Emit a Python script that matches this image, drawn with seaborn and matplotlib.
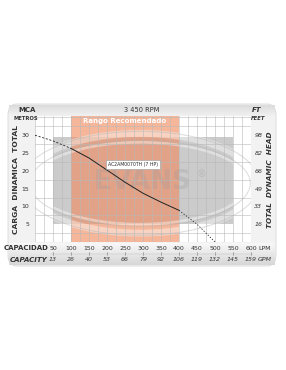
import numpy as np
import pandas as pd
import matplotlib
matplotlib.use("Agg")
import matplotlib.pyplot as plt
from matplotlib.patches import FancyBboxPatch, Rectangle, Ellipse
import seaborn as sns

# ---- data ----
lpm_ticks = [50, 100, 150, 200, 250, 300, 350, 400, 450, 500, 550, 600]
gpm_labels = ["13", "26", "40", "53", "66", "79", "92", "106", "119", "132", "145", "159"]
m_ticks = [5, 10, 15, 20, 25, 30]
ft_labels = ["16", "33", "49", "66", "82", "98"]
flow_lpm = [0, 50, 100, 150, 200, 250, 300, 350, 400, 450, 500]
head_m = [30.0, 28.4, 26.3, 23.6, 20.2, 16.8, 13.7, 11.2, 8.9, 5.0, 0.0]
rec_range = [100, 400]
model_label = "AC2AM0070TH (7 HP)"

sns.set_style("white")
plt.rcParams['font.family'] = ['DejaVu Sans']

W, H = 286, 370
fig = plt.figure(figsize=(W / 100, H / 100), dpi=100)
fig.patch.set_facecolor("white")

def fx(x):
    return x / W

def fy(y):
    return 1 - y / H

# card background
card = FancyBboxPatch((fx(8), fy(266)), fx(268), (266 - 104) / H,
                      boxstyle="round,pad=0,rounding_size=0.03",
                      transform=fig.transFigure, facecolor="#f2f2f2",
                      edgecolor="#d8d8d8", lw=0.6, zorder=0)
fig.patches.append(card)
# top band gradient
grad = np.linspace(0.86, 0.95, 50).reshape(-1, 1)
axg = fig.add_axes([fx(9), fy(117), fx(266), 12 / H], zorder=0.1)
axg.imshow(grad, aspect="auto", cmap="gray", vmin=0, vmax=1, extent=[0, 1, 0, 1])
axg.axis("off")
# bottom band shading
grad2 = np.linspace(0.97, 0.84, 50).reshape(-1, 1)
axb = fig.add_axes([fx(9), fy(265), fx(266), 22 / H], zorder=0.1)
axb.imshow(grad2, aspect="auto", cmap="gray", vmin=0, vmax=1, extent=[0, 1, 0, 1])
axb.axis("off")

ax = fig.add_axes([fx(35), fy(242), fx(216), 126 / H], zorder=1)
ax.set_facecolor("white")
ax.set_xlim(0, 600)
ax.set_ylim(0, 35.4)

# grey logo block and orange recommended range
ax.add_patch(Rectangle((50, 5), 500, 24.5, facecolor="#cbcbcb", edgecolor="none", zorder=0.6))
ax.add_patch(Rectangle((rec_range[0], 0), rec_range[1] - rec_range[0], 35.4,
                       facecolor="#f08a5d", alpha=0.62, edgecolor="none", zorder=0.8))
# watermark logo
for (w, h, lw) in [(650, 28, 5), (600, 23, 2)]:
    e = Ellipse((292, 16.5), w, h, facecolor="none", edgecolor="white", lw=lw, alpha=0.4, zorder=0.9)
    ax.add_patch(e)
    e2 = Ellipse((292, 16.5), w + 12, h + 1.2, facecolor="none", edgecolor="#b0b0b0", lw=0.8, alpha=0.4, zorder=0.9)
    ax.add_patch(e2)
ax.text(300, 14.9, "EVANS", fontsize=19, fontweight="heavy", color="#9a9a9a", alpha=0.28,
        ha="center", va="baseline", zorder=0.95)
ax.text(462, 19.0, "®", fontsize=7, color="#9a9a9a", alpha=0.35, ha="center", va="center", zorder=0.95)

# grid
ax.set_xticks(np.arange(0, 601, 25), minor=True)
ax.set_yticks(np.arange(0, 35.5, 2.5), minor=True)
ax.grid(which="minor", color="#b8b8b8", lw=0.5, alpha=0.8)
ax.set_axisbelow(False)
for s in ax.spines.values():
    s.set_visible(False)

# pump curve
df = pd.DataFrame({"q": flow_lpm, "h": head_m})
sns.lineplot(data=df.iloc[0:3], x="q", y="h", ax=ax, color="#222222", lw=0.6, ls=(0, (2.5, 2)), zorder=3)
sns.lineplot(data=df.iloc[2:9], x="q", y="h", ax=ax, color="#222222", lw=0.7, zorder=3)
sns.lineplot(data=df.iloc[8:], x="q", y="h", ax=ax, color="#222222", lw=0.6, ls=(0, (1.5, 2)), zorder=3)
ax.set_xlabel("")
ax.set_ylabel("")

ax.text(272, 21.7, model_label, fontsize=3.3, ha="center", va="center", zorder=4,
        bbox=dict(boxstyle="square,pad=0.4", facecolor="white", edgecolor="#999999", lw=0.4))
ax.text(250, 33.9, "Rango Recomendado", fontsize=5, fontweight="bold", color="white",
        ha="center", va="center", zorder=4)

# left y tick labels
ax.set_yticks(m_ticks)
ax.set_yticklabels([str(v) for v in m_ticks], fontsize=4.5, color="#333333")
ax.set_xticks([])
ax.tick_params(axis="y", which="both", length=0, pad=4)
ax.tick_params(axis="y", which="minor", length=0)
ax.tick_params(axis="x", which="minor", length=0)

# right ft labels
ax2 = ax.twinx()
ax2.set_ylim(ax.get_ylim())
ax2.set_yticks(m_ticks)
ax2.set_yticklabels(ft_labels, fontsize=4.5, style="italic", color="#333333")
ax2.tick_params(axis="y", length=0, pad=2.5)
for s in ax2.spines.values():
    s.set_visible(False)

# bottom capacity rows
tr = ax.get_xaxis_transform()
for v, g in zip(lpm_ticks, gpm_labels):
    ax.text(v, -6 / 126, str(v), transform=tr, fontsize=4.5, ha="center", va="center", color="#333333")
    ax.text(v, -17.5 / 126, g, transform=tr, fontsize=4.5, style="italic", ha="center", va="center", color="#333333")
    ax.plot([v, v], [-10 / 126, -13 / 126], transform=tr, color="#666666", lw=0.4, clip_on=False)
ax.plot([lpm_ticks[0] - 5, lpm_ticks[-1] + 5], [-11.5 / 126, -11.5 / 126], transform=tr,
        color="#bbbbbb", lw=0.3, clip_on=False)
fig.text(fx(258), fy(248), "LPM", fontsize=4.5, ha="left", va="center", color="#333333")
fig.text(fx(258), fy(259.5), "GPM", fontsize=4.5, style="italic", ha="left", va="center", color="#333333")
fig.text(fx(48), fy(248), "CAPACIDAD", fontsize=5, fontweight="bold", ha="right", va="center", color="#333333")
fig.text(fx(48), fy(259.5), "CAPACITY", fontsize=5, fontweight="bold", style="italic", ha="right", va="center", color="#333333")

# header texts
fig.text(fx(27), fy(110.5), "MCA", fontsize=5, fontweight="bold", ha="center", va="center", color="#333333")
fig.text(fx(26), fy(118), "METROS", fontsize=3.8, fontweight="bold", ha="center", va="center", color="#333333")
fig.text(fx(142), fy(110.5), "3 450 RPM", fontsize=4.8, ha="center", va="center", color="#333333")
fig.text(fx(257), fy(110.5), "FT", fontsize=5, fontweight="bold", style="italic", ha="center", va="center", color="#333333")
fig.text(fx(258), fy(118), "FEET", fontsize=3.8, fontweight="bold", style="italic", ha="center", va="center", color="#333333")

# axis titles
fig.text(fx(16), fy(180), "CARGA  DINAMICA  TOTAL", fontsize=5.4, fontweight="bold", rotation=90,
         ha="center", va="center", color="#333333")
fig.text(fx(270), fy(180), "TOTAL  DYNAMIC  HEAD", fontsize=5.2, fontweight="bold", style="italic",
         rotation=90, ha="center", va="center", color="#333333")

fig.savefig("out.png", dpi=100)
